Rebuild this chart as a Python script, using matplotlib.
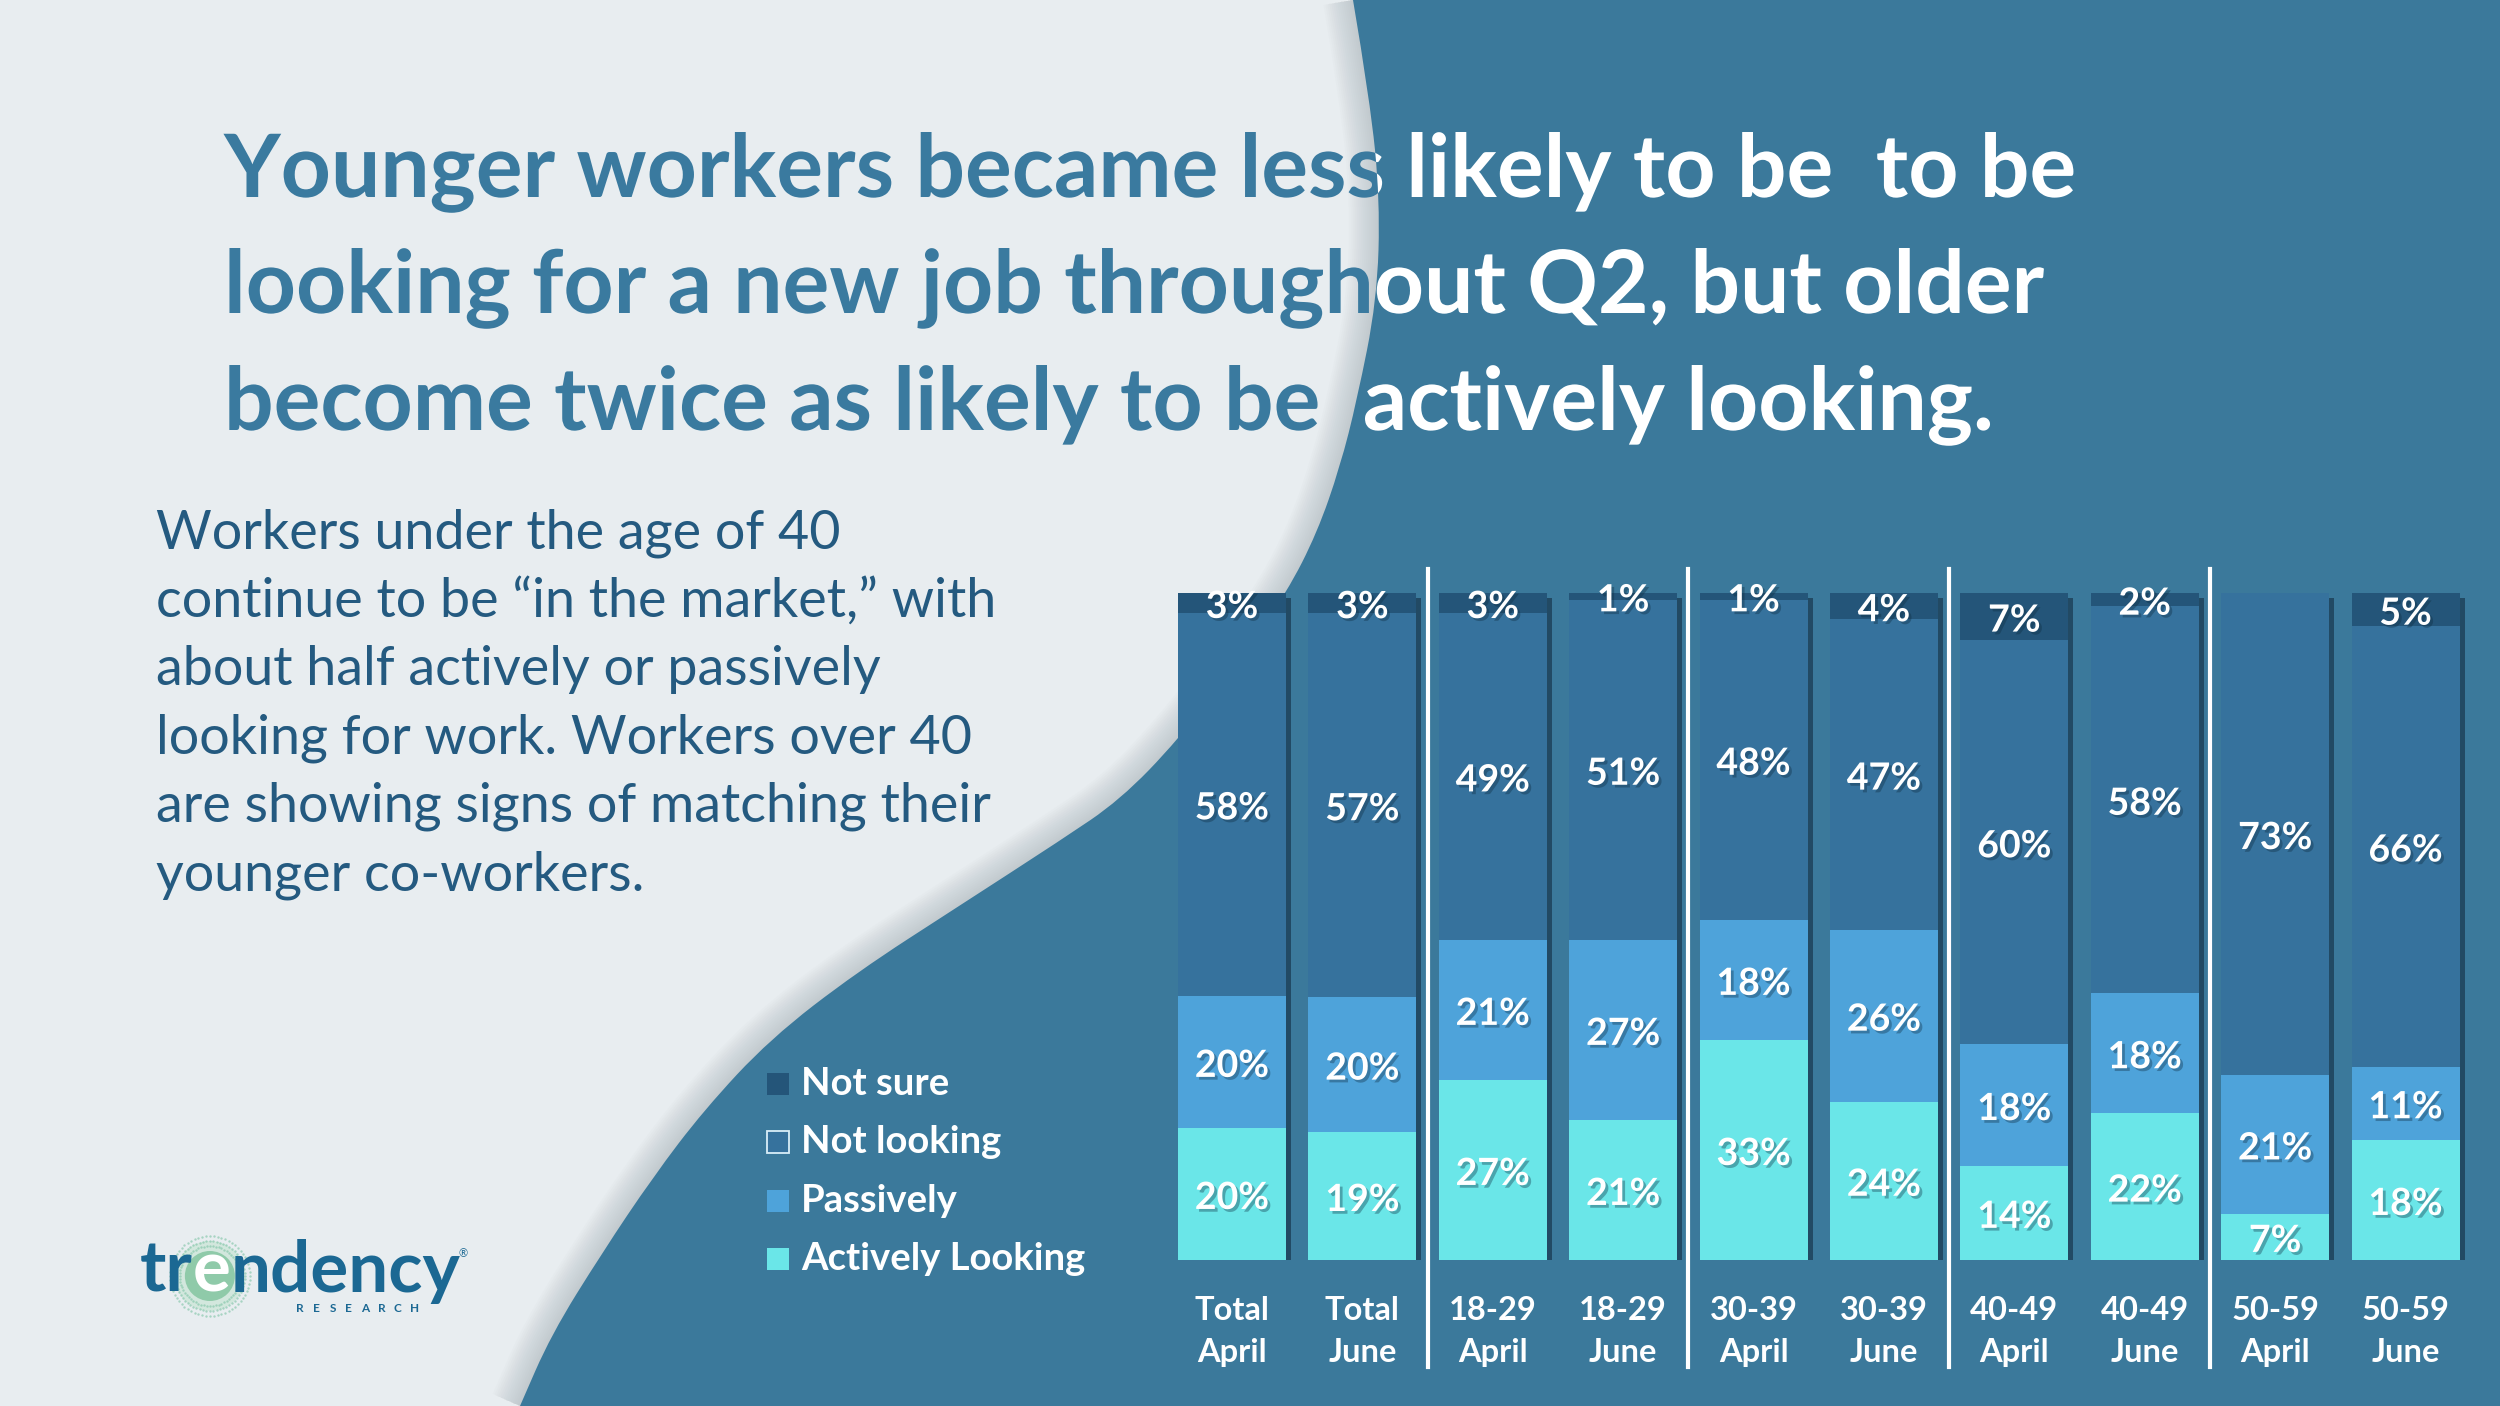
import numpy as np
import matplotlib
matplotlib.use("Agg")
import matplotlib.pyplot as plt
from matplotlib.patches import Rectangle, PathPatch, Circle
from matplotlib.path import Path
from matplotlib.textpath import TextPath
from matplotlib.font_manager import FontProperties
from matplotlib.transforms import Affine2D
import matplotlib.patheffects as pe

# data
categories = ["Total\nApril", "Total\nJune", "18-29\nApril", "18-29\nJune",
              "30-39\nApril", "30-39\nJune", "40-49\nApril", "40-49\nJune",
              "50-59\nApril", "50-59\nJune"]
actively = [20, 19, 27, 21, 33, 24, 14, 22, 7, 18]
passively = [20, 20, 21, 27, 18, 26, 18, 18, 21, 11]
not_looking = [58, 57, 49, 51, 48, 47, 60, 58, 73, 66]
not_sure = [3, 3, 3, 1, 1, 4, 7, 2, 0, 5]
series_names = ["Actively Looking", "Passively", "Not looking", "Not sure"]

title_lines = ["Younger workers became less likely to be  to be",
               "looking for a new job throughout Q2, but older",
               "become twice as likely to be  actively looking."]
body_lines = ["Workers under the age of 40",
              "continue to be \u201cin the market,\u201d with",
              "about half actively or passively",
              "looking for work. Workers over 40",
              "are showing signs of matching their",
              "younger co-workers."]

LIGHT = "#E8EDF0"
BLUE_BG = "#3B799B"
TITLE_BLUE = "#3A7A9F"
BODY_BLUE = "#245A80"
colors = ["#6AE6E8", "#4EA3DA", "#36729D", "#245579"]
FONT = "Lato"

W, H = 2500, 1406
fig = plt.figure(figsize=(25, 14.06), dpi=100)

# background axes in pixel coords (y down)
bg = fig.add_axes([0, 0, 1, 1], zorder=0)
bg.set_xlim(0, W)
bg.set_ylim(H, 0)
bg.axis("off")
bg.add_patch(Rectangle((0, 0), W, H, fc=LIGHT, ec="none", zorder=0))

# wave edge between the light and blue areas
edge = [(1353, 0), (1370, 100), (1380, 200), (1377, 300), (1357, 400), (1340, 467),
        (1317, 533), (1287, 592), (1240, 660), (1178, 740), (1120, 800), (1061, 840),
        (959, 906), (857, 972), (770, 1039), (704, 1110), (653, 1177), (602, 1253),
        (551, 1335), (520, 1406)]
verts = [edge[0]]
codes = [Path.MOVETO]
for i in range(1, len(edge) - 1):
    mid = ((edge[i][0] + edge[i + 1][0]) / 2, (edge[i][1] + edge[i + 1][1]) / 2)
    verts += [edge[i], mid]
    codes += [Path.CURVE3, Path.CURVE3]
verts.append(edge[-1])
codes.append(Path.LINETO)
edge_path = Path(verts, codes)
# soft shadow on the light side of the edge
for lw in range(4, 64, 4):
    bg.add_patch(PathPatch(edge_path, fc="none", ec="#6b7880", lw=lw * 0.72,
                           alpha=0.018, zorder=1, capstyle="butt", joinstyle="round"))
blue_verts = verts + [(W + 5, H + 5), (W + 5, -5), edge[0]]
blue_codes = codes + [Path.LINETO, Path.LINETO, Path.CLOSEPOLY]
blue_patch = PathPatch(Path(blue_verts, blue_codes), fc=BLUE_BG, ec="none", zorder=2)
bg.add_patch(blue_patch)
# plot area fill of the chart
bg.add_patch(Rectangle((1178, 593), 1300, 667, fc=BLUE_BG, ec="none", zorder=2))

# title, blue on the light area, white on the blue area
fp_title = FontProperties(family=FONT, weight="bold")
w1 = TextPath((0, 0), title_lines[0], size=100, prop=fp_title).get_extents().width
tsize = 100 * 1850 / w1
for line, base in zip(title_lines, [197, 313, 430]):
    tp = TextPath((0, 0), line, size=tsize, prop=fp_title)
    tr = Affine2D().scale(1, -1).translate(224, base) + bg.transData
    bg.add_patch(PathPatch(tp, transform=tr, fc=TITLE_BLUE, ec="none", zorder=3))
    wp = PathPatch(tp, transform=tr, fc="white", ec="none", zorder=4)
    bg.add_patch(wp)
    wp.set_clip_path(blue_patch)

for i, line in enumerate(body_lines):
    bg.text(156, 548 + i * 68.4, line, fontsize=38.8, family=FONT, color=BODY_BLUE,
            va="baseline", ha="left", zorder=5)

# legend
legend_y = [1259, 1201, 1142, 1084]
for name, col, ly in zip(series_names, colors, legend_y):
    if name == "Not looking":
        bg.add_patch(Rectangle((767, ly - 11), 22, 22, fc=col, ec="#d8eef8", lw=1.3, zorder=5))
    else:
        bg.add_patch(Rectangle((767, ly - 11), 22, 22, fc=col, ec="none", zorder=5))
    bg.text(801, ly, name, fontsize=27.5, family=FONT, weight="bold", color="white",
            va="center", ha="left", zorder=5)

# logo
LOGO = "#1B6893"
t1 = bg.text(140, 1292, "tr", fontsize=51, family=FONT, weight="bold", color=LOGO,
             va="baseline", zorder=6)
fig.canvas.draw()
x_e = t1.get_window_extent().x1
bg.add_patch(Circle((x_e + 17, 1276), 35, fc="#b9e0c8", ec="none", alpha=0.45, zorder=5))
ang = np.linspace(0, 2 * np.pi, 64, endpoint=False)
for r in [30, 35, 40]:
    bg.scatter(x_e + 17 + r * np.cos(ang), 1276 + r * np.sin(ang), s=3,
               color="#7cc3a4", alpha=0.6, lw=0, zorder=5)
bg.add_patch(Circle((x_e + 17, 1276), 25, fc="#8fcaa9", ec="none", zorder=5))
t2 = bg.text(x_e, 1292, "e", fontsize=51, family=FONT, weight="bold", color="white",
             va="baseline", zorder=6)
fig.canvas.draw()
x_n = t2.get_window_extent().x1
bg.text(x_n, 1292, "ndency", fontsize=51, family=FONT, weight="bold", color=LOGO,
        va="baseline", zorder=6)
bg.text(463, 1254, "\u00ae", fontsize=8, family=FONT, color=LOGO, ha="center",
        va="center", zorder=6)
for i, ch in enumerate("RESEARCH"):
    bg.text(300 + i * 16.3, 1309, ch, fontsize=8.5, family=FONT, weight="bold",
            color=LOGO, ha="center", va="center", zorder=6)

# chart
ax = fig.add_axes([1166.8 / W, 1 - 1260 / H, 1304 / W, 667 / H], zorder=2)
ax.patch.set_visible(False)
x = np.arange(len(categories))
series = [np.array(actively), np.array(passively), np.array(not_looking), np.array(not_sure)]
totals = sum(series).astype(float)
bw = 108 / 130.4

ax.bar(x + 5 / 130.4, 1.0, bw, bottom=-5 / 667, color="#1a3b52", alpha=0.75, zorder=2)
shadow = [pe.withSimplePatchShadow(offset=(2, -2), shadow_rgbFace="#0d2a3d", alpha=0.35)]
bottom = np.zeros(len(categories))
for vals, col in zip(series, colors):
    h = vals / totals
    ax.bar(x, h, bw, bottom=bottom, color=col, zorder=3)
    for xi, v, b, hh in zip(x, vals, bottom, h):
        if v > 0:
            ax.annotate(f"{v}%", (xi, b + hh / 2), xytext=(0, -4), textcoords="offset pixels",
                        ha="center", va="center", fontsize=27, family=FONT,
                        weight="bold", color="white", zorder=5, path_effects=shadow)
    bottom += h

for g in range(1, len(categories) // 2):
    xs = 2 * g - 0.5
    ax.plot([xs, xs], [-0.16, 1.036], color="white", lw=3, clip_on=False, zorder=4)

ax.set_xlim(-0.5, len(categories) - 0.5)
ax.set_ylim(0, 1)
ax.set_xticks(x)
ax.set_xticklabels(categories, fontsize=23.5, family=FONT, weight="bold", color="white",
                   linespacing=1.55)
ax.tick_params(axis="x", length=0, pad=26)
ax.set_yticks([])
for s in ax.spines.values():
    s.set_visible(False)

fig.savefig("out.png", dpi=100)
